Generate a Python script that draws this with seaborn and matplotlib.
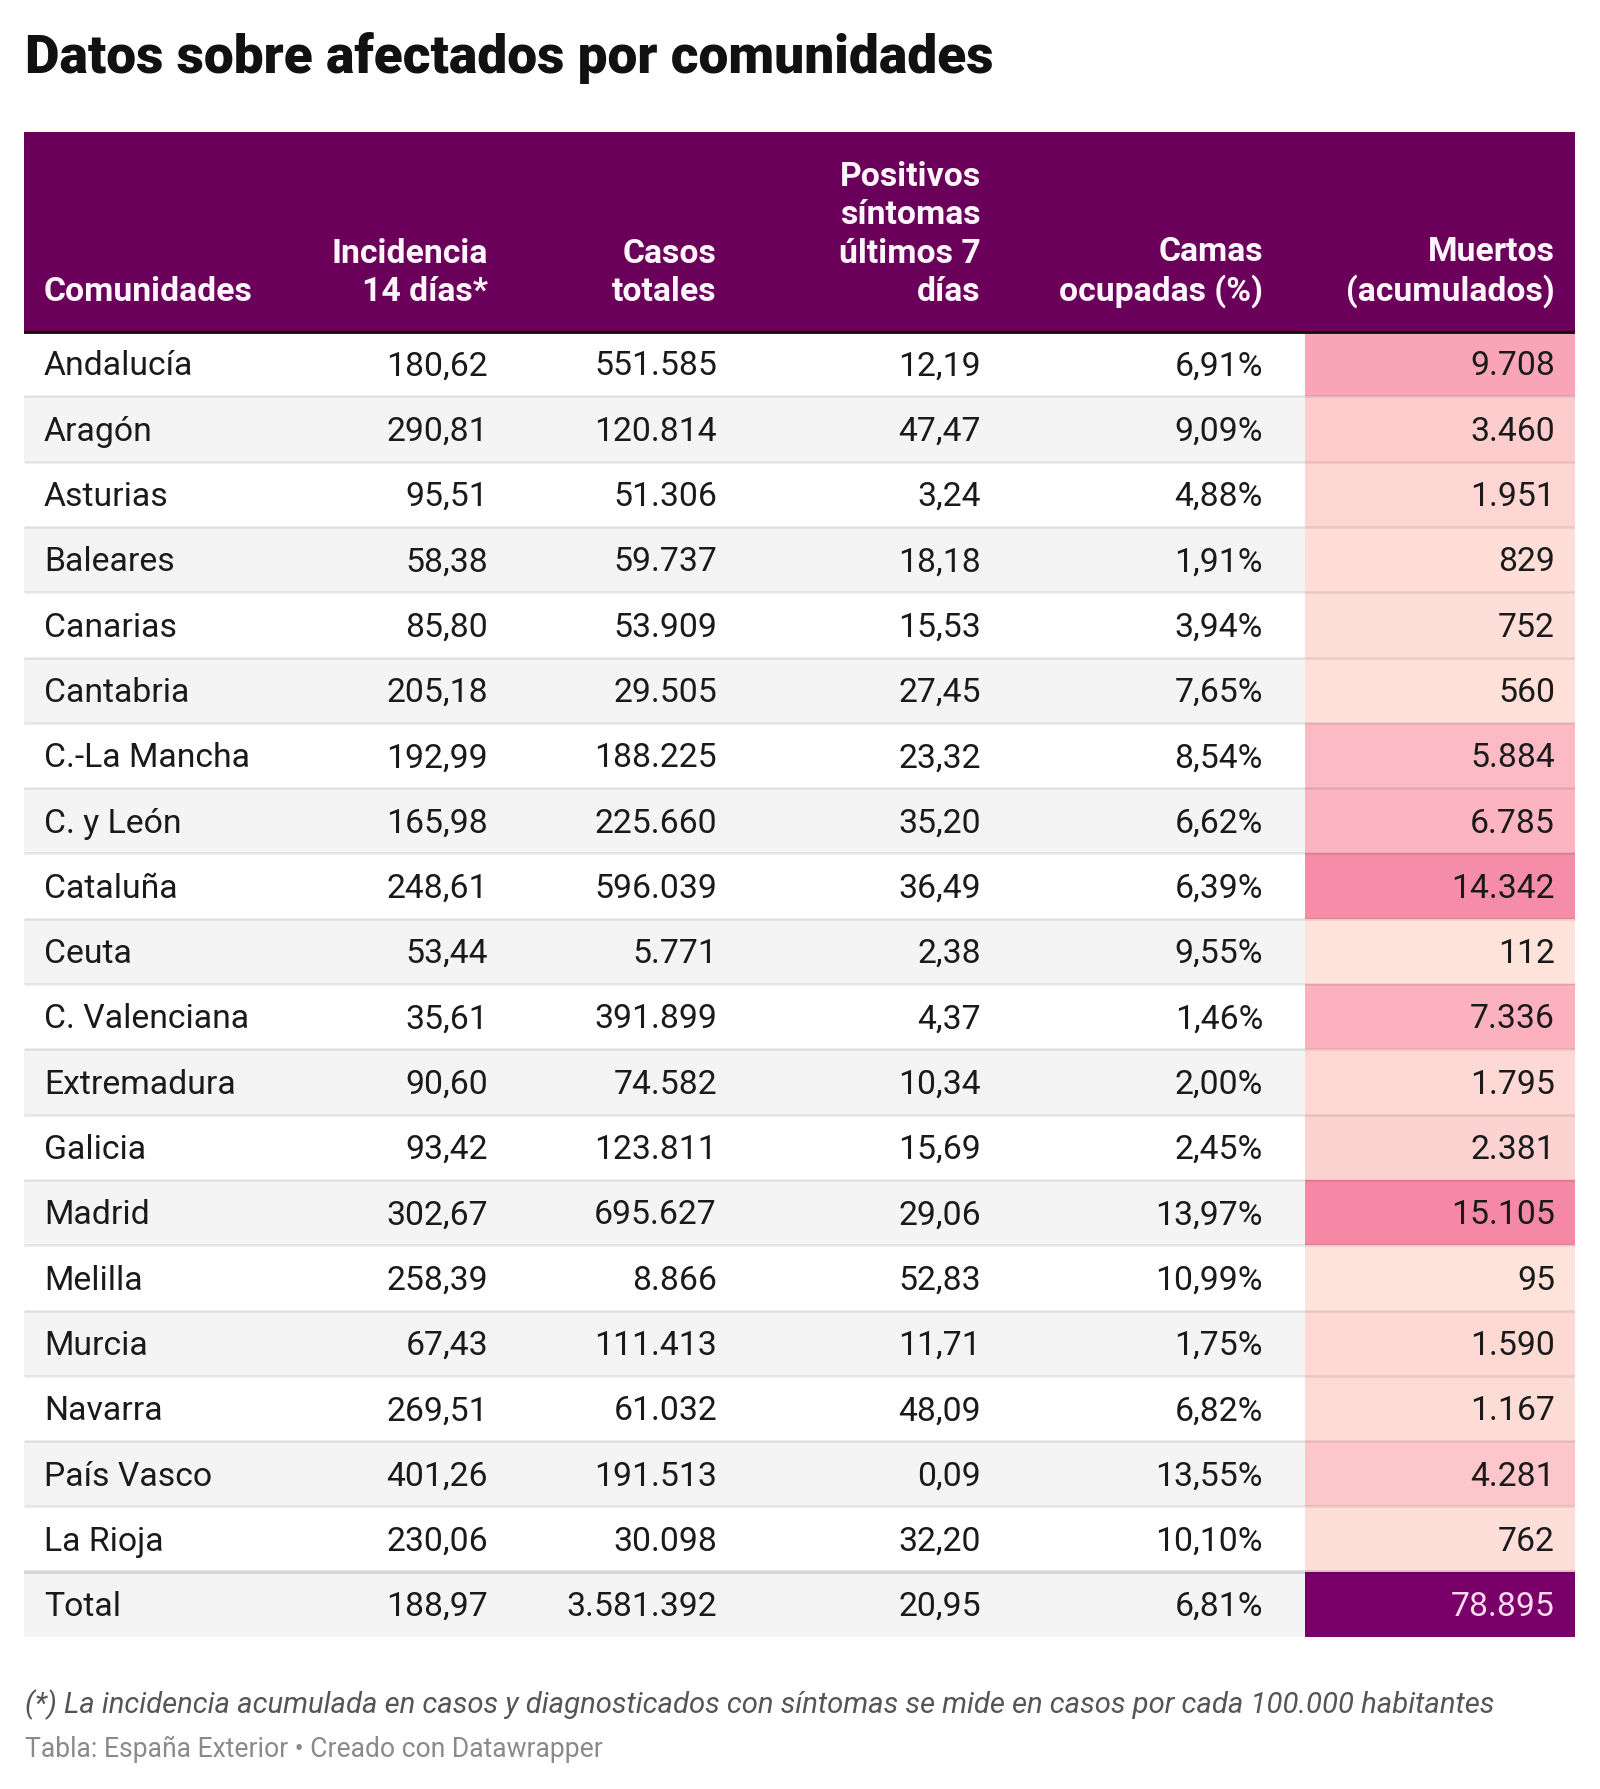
import numpy as np
import pandas as pd
import matplotlib
matplotlib.use("Agg")
import matplotlib.pyplot as plt
import seaborn as sns
from matplotlib.colors import LinearSegmentedColormap

# Table data
comunidades = ["Andalucía", "Aragón", "Asturias", "Baleares", "Canarias", "Cantabria",
               "C.-La Mancha", "C. y León", "Cataluña", "Ceuta", "C. Valenciana",
               "Extremadura", "Galicia", "Madrid", "Melilla", "Murcia", "Navarra",
               "País Vasco", "La Rioja", "Total"]
incidencia = ["180,62", "290,81", "95,51", "58,38", "85,80", "205,18", "192,99", "165,98",
              "248,61", "53,44", "35,61", "90,60", "93,42", "302,67", "258,39", "67,43",
              "269,51", "401,26", "230,06", "188,97"]
casos = ["551.585", "120.814", "51.306", "59.737", "53.909", "29.505", "188.225", "225.660",
         "596.039", "5.771", "391.899", "74.582", "123.811", "695.627", "8.866", "111.413",
         "61.032", "191.513", "30.098", "3.581.392"]
positivos = ["12,19", "47,47", "3,24", "18,18", "15,53", "27,45", "23,32", "35,20", "36,49",
             "2,38", "4,37", "10,34", "15,69", "29,06", "52,83", "11,71", "48,09", "0,09",
             "32,20", "20,95"]
camas = ["6,91%", "9,09%", "4,88%", "1,91%", "3,94%", "7,65%", "8,54%", "6,62%", "6,39%",
         "9,55%", "1,46%", "2,00%", "2,45%", "13,97%", "10,99%", "1,75%", "6,82%", "13,55%",
         "10,10%", "6,81%"]
muertos = [9708, 3460, 1951, 829, 752, 560, 5884, 6785, 14342, 112, 7336, 1795, 2381,
           15105, 95, 1590, 1167, 4281, 762, 78895]

headers = ["Comunidades", "Incidencia\n14 días*", "Casos\ntotales",
           "Positivos\nsíntomas\núltimos 7\ndías", "Camas\nocupadas (%)",
           "Muertos\n(acumulados)"]

title = "Datos sobre afectados por comunidades"
nota = "(*) La incidencia acumulada en casos y diagnosticados con síntomas se mide en casos por cada 100.000 habitantes"
fuente = "Tabla: España Exterior • Creado con Datawrapper"

PURPLE = "#6b005b"
TOTAL_BG = "#790068"

sns.set_theme(style="white")
plt.rcParams["font.family"] = ["Roboto", "DejaVu Sans"]

W, H = 1600, 1789
fig = plt.figure(figsize=(W / 100, H / 100), dpi=100)


def px_axes(x0, y0, x1, y1, z=1):
    ax = fig.add_axes([x0 / W, 1 - y1 / H, (x1 - x0) / W, (y1 - y0) / H])
    ax.set_axis_off()
    ax.set_zorder(z)
    return ax


def fmt(v):
    return f"{v:,}".replace(",", ".")


n = len(comunidades)
tbl_l, tbl_r = 24, 1575
hdr_top, hdr_bot, tbl_bot = 132, 331, 1637
mu_l = 1305
right_edges = [488, 717, 981, 1263, 1555]
name_x = 44
FS = 24.3

fig.text(25 / W, 1 - 73 / H, title, fontsize=38.3, fontweight=900,
         color="#111111", ha="left", va="baseline")

# Header band
hax = px_axes(tbl_l, hdr_top, tbl_r, hdr_bot)
hax.set_xlim(tbl_l, tbl_r)
hax.set_ylim(hdr_bot, hdr_top)
hax.axhspan(hdr_bot, hdr_top, color=PURPLE)
hax.text(name_x, 308, headers[0], ha="left", va="bottom", color="#fdf5fa",
         fontsize=24.3, fontweight="bold", linespacing=1.25)
for x, lab in zip(right_edges, headers[1:]):
    hax.text(x, 308, lab, ha="right", va="bottom", color="#fdf5fa", fontsize=24.3,
             fontweight="bold", linespacing=1.25, multialignment="right")

# Row stripes (background)
bg = px_axes(tbl_l, hdr_bot, tbl_r, tbl_bot, z=0)
bg.set_xlim(tbl_l, tbl_r)
bg.set_ylim(n, 0)
for i in range(n):
    if i % 2 == 1:
        bg.axhspan(i, i + 1, color="#f4f4f4", lw=0)

# Muertos heatmap column
mu_ax = px_axes(mu_l, hdr_bot, tbl_r, tbl_bot, z=1)
cmap = LinearSegmentedColormap.from_list(
    "muertos", [(0, "#fee3da"), (0.45, "#fcb4c0"), (1, "#f488a5")])
mu_df = pd.DataFrame({"Muertos": muertos}, index=comunidades)
mask = np.zeros((n, 1), dtype=bool)
mask[-1, 0] = True
sns.heatmap(mu_df, ax=mu_ax, cmap=cmap, vmin=min(muertos[:-1]), vmax=max(muertos[:-1]),
            mask=mask, cbar=False, linewidths=0, xticklabels=False, yticklabels=False)
mu_ax.axhspan(n - 1, n, color=TOTAL_BG, lw=0)
mu_ax.set_axis_off()

# Lines and text on top
ax = px_axes(tbl_l, hdr_bot, tbl_r, tbl_bot, z=5)
ax.patch.set_visible(False)
ax.set_xlim(tbl_l, tbl_r)
ax.set_ylim(n, 0)
ax.hlines(np.arange(1, n - 1), tbl_l, tbl_r, color="#000000", alpha=0.09, lw=1.8)
ax.hlines([n - 1], tbl_l, tbl_r, color="#000000", alpha=0.13, lw=2.8)
ax.axhline(0, color="#111111", lw=3.5)

cols = [incidencia, casos, positivos, camas]
for i in range(n):
    yb = i + 0.68
    ax.text(name_x, yb, comunidades[i], ha="left", va="baseline", fontsize=FS,
            color="#1a1a1a")
    for x, col in zip(right_edges[:4], cols):
        ax.text(x, yb, col[i], ha="right", va="baseline", fontsize=FS, color="#1a1a1a")
    tc = "#fcd9ef" if i == n - 1 else "#1a1a1a"
    ax.text(right_edges[4], yb, fmt(muertos[i]), ha="right", va="baseline",
            fontsize=FS, color=tc)

fig.text(25 / W, 1 - 1713 / H, nota, fontsize=21.1, style="italic", color="#555555",
         ha="left", va="baseline")
fig.text(25 / W, 1 - 1757 / H, fuente, fontsize=19.1, color="#8a8a8a",
         ha="left", va="baseline")

fig.savefig("out.png", dpi=100, facecolor="white")
